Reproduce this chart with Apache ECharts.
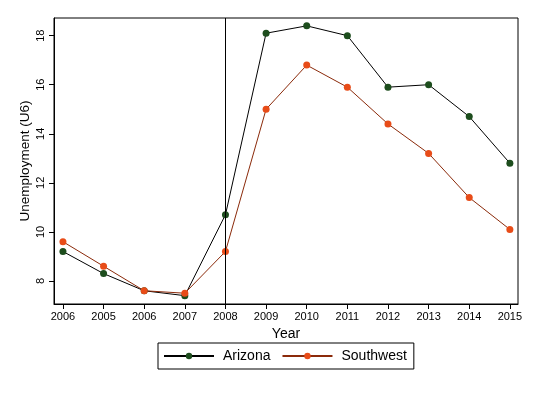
<!DOCTYPE html>
<html>
<head>
<meta charset="utf-8">
<script src="https://cdn.jsdelivr.net/npm/echarts@6/dist/echarts.min.js"></script>
<style>html,body{margin:0;padding:0;background:#fff}#c{width:537px;height:393px}</style>
</head>
<body>
<div id="c"></div>
<script>
const xLabels = ['2006','2005','2006','2007','2008','2009','2010','2011','2012','2013','2014','2015'];
const arizona = [9.2, 8.3, 7.6, 7.4, 10.7, 18.1, 18.4, 18.0, 15.9, 16.0, 14.7, 12.8];
const southwest = [9.6, 8.6, 7.6, 7.5, 9.2, 15.0, 16.8, 15.9, 14.4, 13.2, 11.4, 10.1];
const yTicks = [8, 10, 12, 14, 16, 18];
const markerIndex = 4;

const idx = xLabels.map((_, i) => i);
const font = 'Liberation Sans, Arial, sans-serif';
const chart = echarts.init(document.getElementById('c'));
chart.setOption({
  animation: false,
  backgroundColor: '#fff',
  grid: { left: 54, right: 19, top: 18, bottom: 89, containLabel: false },
  xAxis: {
    type: 'value', min: -0.22, max: 11.2,
    name: 'Year', nameLocation: 'middle', nameGap: 22,
    nameTextStyle: { fontFamily: font, fontSize: 14, color: '#000' },
    axisLine: { show: true, onZero: false, lineStyle: { color: '#000', width: 1 } },
    axisTick: { show: true, customValues: idx, length: 5, lineStyle: { color: '#000' } },
    axisLabel: { customValues: idx, formatter: v => xLabels[Math.round(v)], fontFamily: font, fontSize: 11, color: '#000', margin: 7 },
    splitLine: { show: false }
  },
  yAxis: {
    type: 'value', min: 7.06, max: 18.72,
    name: 'Unemployment (U6)', nameLocation: 'middle', nameGap: 22, nameRotate: 90,
    nameMoveOverlap: false,
    nameTextStyle: { fontFamily: font, fontSize: 13.5, color: '#000' },
    axisLine: { show: true, onZero: false, lineStyle: { color: '#000', width: 1 } },
    axisTick: { show: true, customValues: yTicks, length: 5, lineStyle: { color: '#000' } },
    axisLabel: { customValues: yTicks, rotate: 90, fontFamily: font, fontSize: 11, color: '#000', margin: 8 },
    splitLine: { show: false }
  },
  legend: {
    bottom: 24, left: 158,
    itemWidth: 50, itemHeight: 8, itemGap: 11,
    padding: [6, 7, 6, 5],
    borderColor: '#000', borderWidth: 1, borderRadius: 0,
    textStyle: { fontFamily: font, fontSize: 14, color: '#000', padding: [0, 0, 0, 4] },
    data: ['Arizona', 'Southwest']
  },
  graphic: [{
    type: 'rect', shape: { x: 54, y: 18, width: 464, height: 286 },
    style: { fill: 'none', stroke: '#000', lineWidth: 1 }, silent: true, z: 10
  }],
  series: [
    {
      name: 'Arizona', type: 'line',
      data: arizona.map((v, i) => [i, v]),
      symbol: 'circle', symbolSize: 7,
      lineStyle: { color: '#000', width: 1 },
      itemStyle: { color: '#1d4d1d' },
      markLine: {
        silent: true, symbol: 'none', label: { show: false },
        lineStyle: { color: '#000', width: 1, type: 'solid' },
        data: [{ xAxis: markerIndex }]
      }
    },
    {
      name: 'Southwest', type: 'line',
      data: southwest.map((v, i) => [i, v]),
      symbol: 'circle', symbolSize: 7,
      lineStyle: { color: '#8b2a0a', width: 1 },
      itemStyle: { color: '#e84c18' }
    }
  ]
});
</script>
</body>
</html>
